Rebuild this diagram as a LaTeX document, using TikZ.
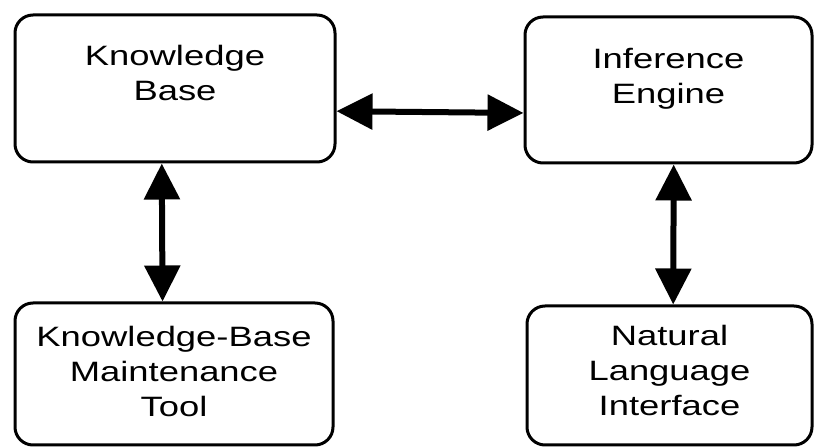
\documentclass[tikz,border=0pt]{standalone}
\usepackage{fontspec}
\setmainfont{Liberation Sans}[FakeStretch=1.3]
\usepackage{tikz}
\usetikzlibrary{arrows.meta}
\usetikzlibrary{positioning}
\tikzstyle{bx} = [rectangle, draw, line width=3pt, rounded corners=18pt]
\tikzstyle{tx} = [inner sep=0pt, align=center, font=\fontsize{28}{35}\selectfont]
\tikzstyle{dbl} = [line width=6pt, {Triangle[length=36pt,width=35pt]}-{Triangle[length=36pt,width=35pt]}]

\begin{document}
\begin{tikzpicture}[x=1pt,y=1pt]
		\useasboundingbox (0,0) rectangle (815,447);
		\node[bx, minimum width=320pt, minimum height=147pt] (kb) at (175,358.5) {};
		\node[bx, minimum width=287pt, minimum height=146pt] (ie) at (668.5,357) {};
		\node[bx, minimum width=318pt, minimum height=142pt] (kbm) at (174,73) {};
		\node[bx, minimum width=285pt, minimum height=139pt] (nli) at (669.5,71.5) {};
		% box texts
		\node[tx, below=32pt of kb.north] (kbt) {Knowledge\\Base};
		\node[tx, below=33pt of ie.north] (iet) {Inference\\Engine};
		\node[tx, below=25pt of kbm.north] (kbmt) {Knowledge-Base\\Maintenance\\Tool};
		\node[tx, below=21pt of nli.north] (nlit) {Natural\\Language\\Interface};
		\foreach \from/\to in {kb.-8.7/ie.189.1,kb.-100/kbm.99.6,ie.-86.5/nli.87.1}
		\draw[dbl] (\from) -- (\to);
	\end{tikzpicture}
\end{document}
